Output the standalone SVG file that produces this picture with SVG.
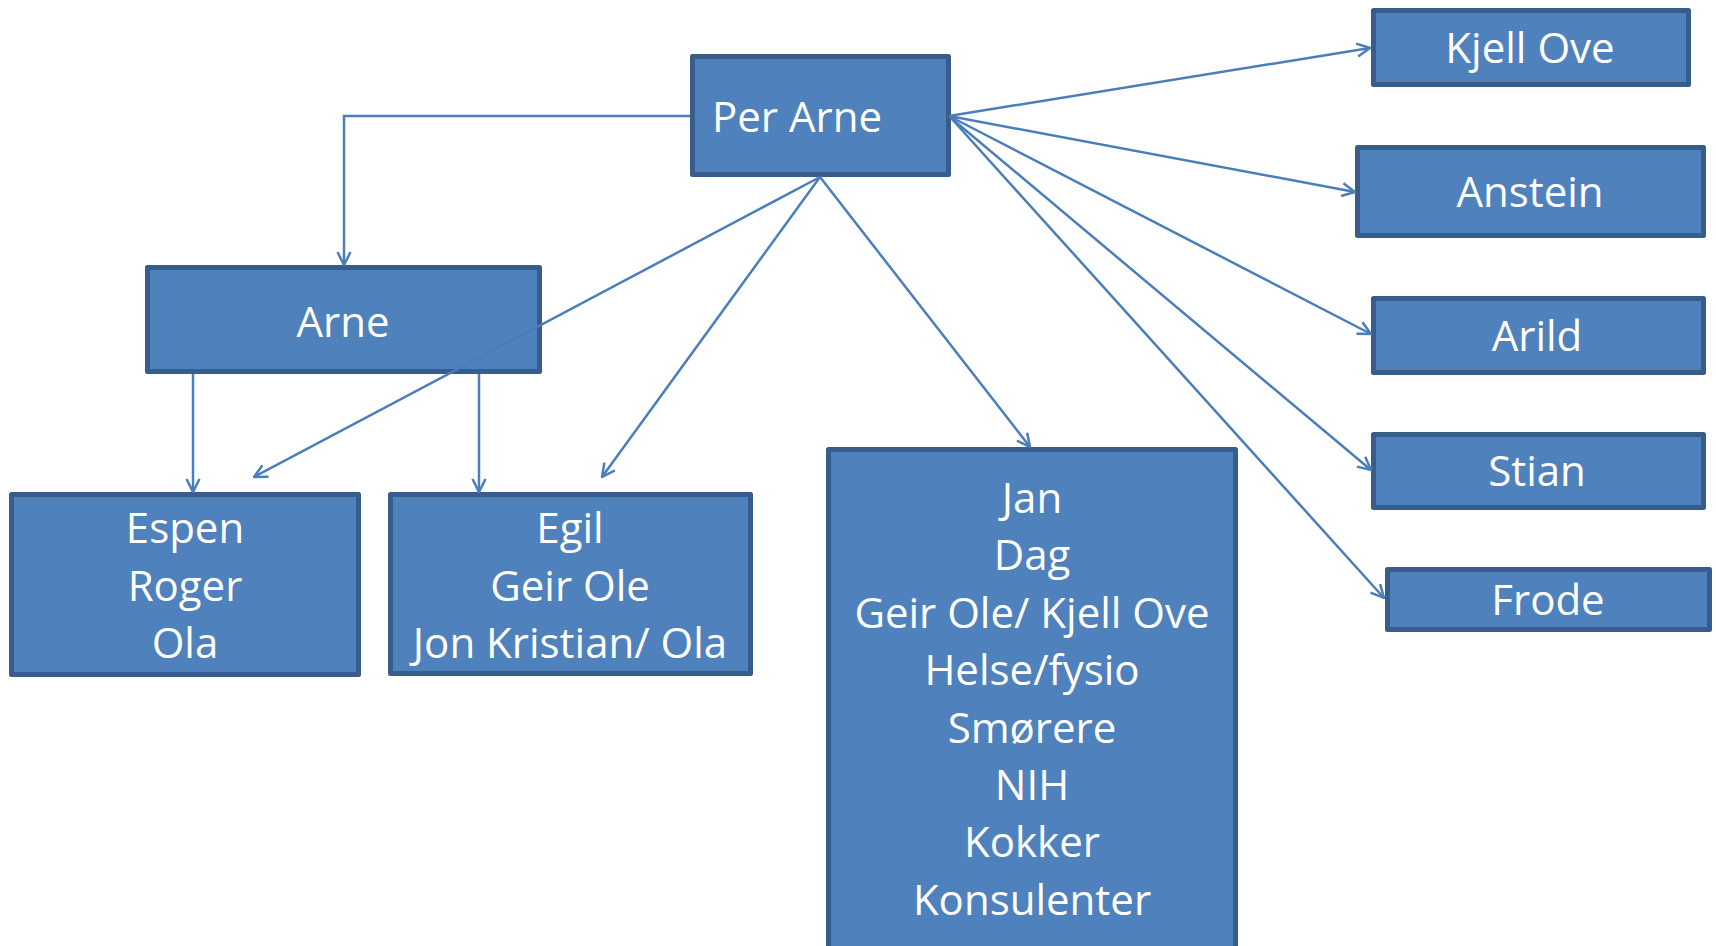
<svg xmlns="http://www.w3.org/2000/svg" width="1716" height="946" viewBox="0 0 1716 946">
<defs>
<style>
.box{fill:#4f81bd;stroke:#385d8a;stroke-width:5;stroke-linejoin:round}
.t{font-family:"Open Sans","Liberation Sans",sans-serif;font-size:42px;fill:#ffffff;text-anchor:middle}
.c{fill:none;stroke:#4a7ebb;stroke-width:2.5;marker-end:url(#arr)}
</style>
<marker id="arr" viewBox="0 0 16 16" markerUnits="userSpaceOnUse" markerWidth="16" markerHeight="16" refX="15" refY="8" orient="auto">
<path d="M2,1.5 L15,8 L2,14.5" fill="none" stroke="#4a7ebb" stroke-width="2.5"/>
</marker>
</defs>
<rect width="1716" height="946" fill="#ffffff"/>
<g id="per-arne">
<rect class="box" x="692.5" y="56.5" width="256" height="118"/>
<text class="t" x="712" y="132" style="text-anchor:start">Per Arne</text>
</g>
<g id="arne">
<rect class="box" x="147.5" y="267.5" width="392" height="104"/>
<text class="t" x="343" y="337">Arne</text>
</g>
<g id="espen">
<rect class="box" x="11.5" y="494.5" width="347" height="180"/>
<text class="t" x="185" y="543">Espen</text>
<text class="t" x="185" y="601">Roger</text>
<text class="t" x="185" y="658">Ola</text>
</g>
<g id="egil">
<rect class="box" x="390.5" y="494.5" width="360" height="179"/>
<text class="t" x="570" y="543">Egil</text>
<text class="t" x="570" y="601">Geir Ole</text>
<text class="t" x="570" y="658">Jon Kristian/ Ola</text>
</g>
<g id="jan">
<rect class="box" x="828.5" y="449.5" width="407" height="520"/>
<text class="t" x="1032" y="513">Jan</text>
<text class="t" x="1032" y="570">Dag</text>
<text class="t" x="1032" y="628">Geir Ole/ Kjell Ove</text>
<text class="t" x="1032" y="685">Helse/fysio</text>
<text class="t" x="1032" y="743">Smørere</text>
<text class="t" x="1032" y="800">NIH</text>
<text class="t" x="1032" y="857">Kokker</text>
<text class="t" x="1032" y="915">Konsulenter</text>
</g>
<g id="kjell-ove">
<rect class="box" x="1373.5" y="10.5" width="315" height="74"/>
<text class="t" x="1530" y="63">Kjell Ove</text>
</g>
<g id="anstein">
<rect class="box" x="1357.5" y="147.5" width="346" height="88"/>
<text class="t" x="1530" y="207">Anstein</text>
</g>
<g id="arild">
<rect class="box" x="1373.5" y="298.5" width="330" height="74"/>
<text class="t" x="1537" y="351">Arild</text>
</g>
<g id="stian">
<rect class="box" x="1373.5" y="434.5" width="330" height="73"/>
<text class="t" x="1537" y="486">Stian</text>
</g>
<g id="frode">
<rect class="box" x="1387.5" y="569.5" width="322" height="60"/>
<text class="t" x="1548" y="615">Frode</text>
</g>
<g id="connectors">
<path class="c" d="M690,116 H344 V265"/>
<path class="c" d="M193,374 V492"/>
<path class="c" d="M479,374 V492"/>
<path class="c" d="M820,177 L254,477"/>
<path class="c" d="M820,177 L602,477"/>
<path class="c" d="M820,177 L1030,447"/>
<path class="c" d="M949,116 L1370,48"/>
<path class="c" d="M949,116 L1355,192"/>
<path class="c" d="M949,116 L1371,334"/>
<path class="c" d="M951,118 L1371,470"/>
<path class="c" d="M951,118 L1384,598"/>
</g>
</svg>
